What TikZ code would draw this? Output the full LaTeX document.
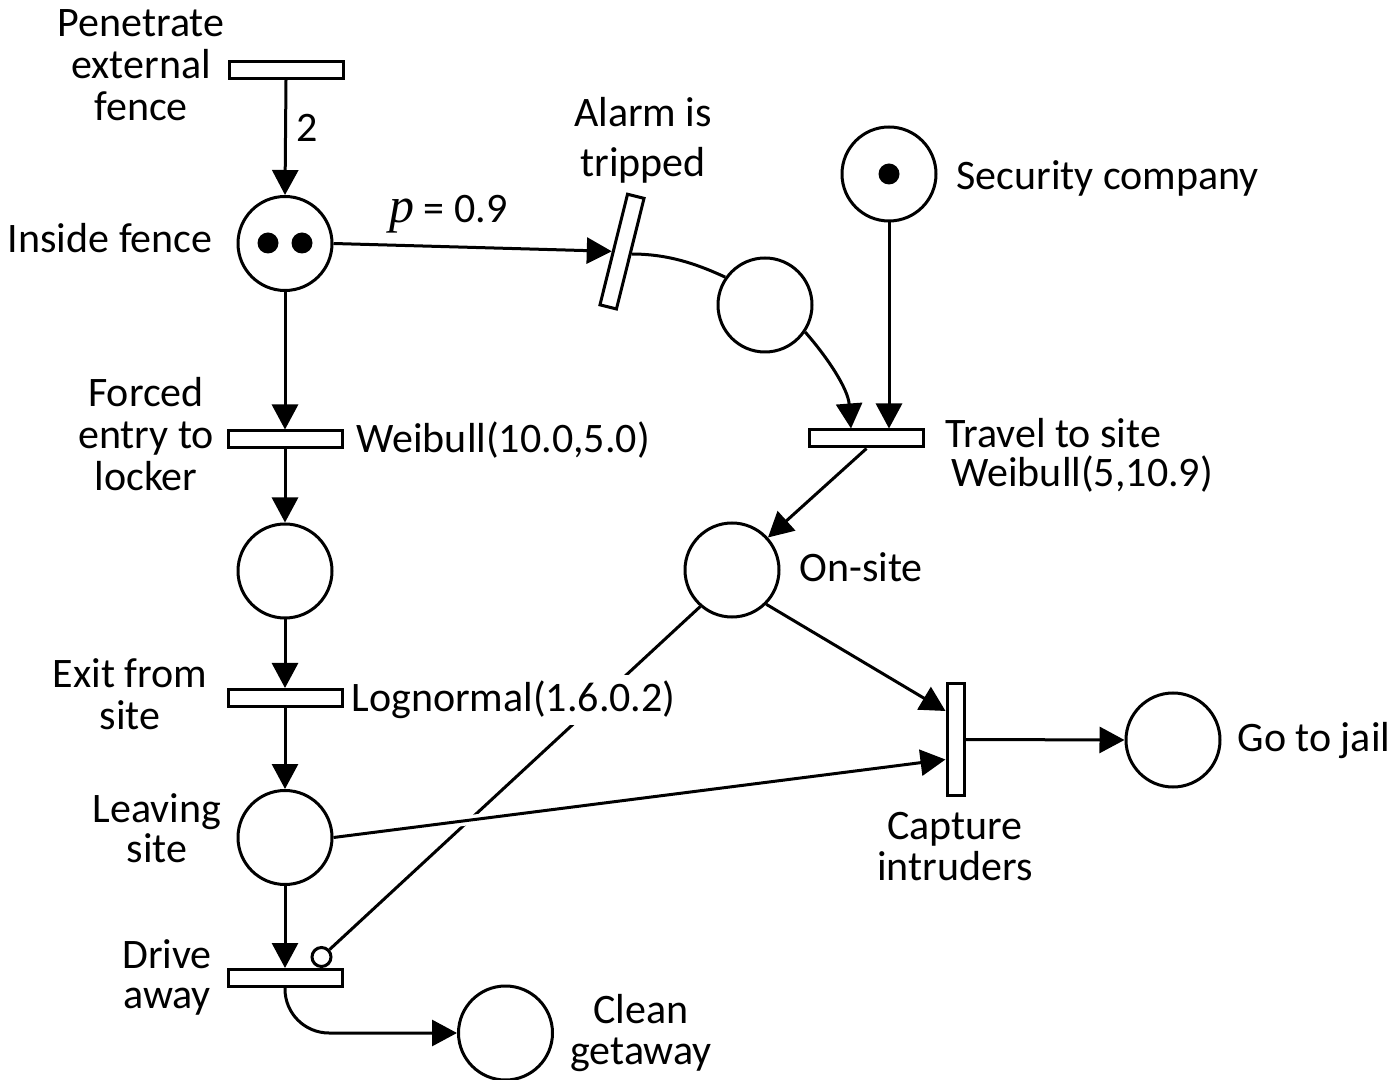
\documentclass[tikz,border=0pt]{standalone}
\usepackage{fontspec}
\setmainfont{Carlito}
\newfontfamily\pfont{Liberation Serif}
\usetikzlibrary{arrows.meta,calc}
\begin{document}
\begin{tikzpicture}[x=0.5pt,y=-0.5pt,
  line width=1.5pt,
  every node/.style={font=\fontsize{21pt}{21pt}\selectfont},
  place/.style={draw, circle, minimum size=47pt, inner sep=0pt},
  trans/.style={draw, rectangle, minimum width=57pt, minimum height=8.5pt, inner sep=0pt},
  vtrans/.style={draw, rectangle, minimum width=8.5pt, minimum height=56pt, inner sep=0pt},
  token/.style={fill, circle, minimum size=10.5pt, inner sep=0pt},
  inhib/.style={draw, fill=white, circle, minimum size=9.5pt, inner sep=0pt},
  lbl/.style={inner sep=0pt, align=center},
  arc/.style={-{Triangle[length=12.5pt,width=13pt]}},
]
\useasboundingbox (0,0) rectangle (1399,1080);

% places and transitions
\node[trans] (pen) at (286,70) {};
\node[place] (inside) at (285,243.5) {};
\node[token] (tk1) at (268,243) {};
\node[token] (tk2) at (302,243) {};
\node[trans, rotate=76] (alarm) at (622,251.6) {};
\node[place] (alarmp) at (765,305) {};
\node[place] (secur) at (889,174) {};
\node[token] (tk3) at (889,174) {};
\node[trans] (travel) at (866.5,438.5) {};
\node[trans] (forced) at (285,439.5) {};
\node[place] (locker) at (285,571) {};
\node[place] (onsite) at (732,570) {};
\node[trans] (exit) at (285,698) {};
\node[place] (leave) at (285,837.5) {};
\node[vtrans] (capture) at (955.5,739.5) {};
\node[place] (jail) at (1173,740) {};
\node[trans] (drive) at (285,978) {};
\node[inhib] (inh) at (321.5,957) {};
\node[place] (clean) at (505.5,1033) {};

% arcs
\draw[arc] (pen.south) -- (inside.north);
\draw[arc] (inside.east) -- (alarm);
\draw (alarm.south) .. controls +(35,0) and +(-30,-14) .. (alarmp.145);
\draw[arc] (alarmp.-34) .. controls +(22,25) and +(-3,-40) .. ($(travel.north)+(-15.5,0)$);
\draw[arc] (secur.south) -- (secur.south |- travel.north);
\draw[arc] (travel.south) -- (onsite);
\draw[arc] (inside.south) -- (forced.north);
\draw[arc] (forced.south) -- (locker.north);
\draw[arc] (locker.south) -- (exit.north);
\draw[arc] (exit.south) -- (leave.north);
\draw[arc] (leave.south) -- (drive.north);
\draw[arc, rounded corners=22pt] (drive.south) |- (clean.west);
\draw (onsite.229) -- (inh);
\path (leave.east) -- coordinate[pos=0.19] (h1) coordinate[pos=0.26] (h2) ($(capture.west)+(0,20)$);
\draw[white, line width=5pt] (h1) -- (h2);
\draw[arc] (leave.east) -- ($(capture.west)+(0,20)$);
\draw[arc] (onsite.-45) -- ($(capture.west)+(0,-28.5)$);
\draw[arc] (capture.east) -- (jail.west);

% labels (multi-line nodes: base = baseline of last line)
\node[lbl, anchor=base] (lpen) at (141,121) {Penetrate\\external\\fence};
\node[lbl, anchor=base east] (linside) at (214,253) {Inside fence};
\node[lbl, anchor=base west] (l2) at (295,142) {2};
\node[lbl, anchor=base west] (lp) at (388,223) {{\pfont\itshape\fontsize{25pt}{25pt}\selectfont p} = 0.9};
\node[lbl, anchor=base, font=\fontsize{21pt}{25pt}\selectfont] (lalarm) at (643,177) {Alarm is\\tripped};
\node[lbl, anchor=base west] (lsec) at (955,190) {Security company};
\node[lbl, anchor=base] (lforced) at (146,491) {Forced\\entry to\\locker};
\node[lbl, anchor=base west] (lweib1) at (355,453) {Weibull(10.0,5.0)};
\node[lbl, anchor=base west, align=left, font=\fontsize{21pt}{19.5pt}\selectfont] (ltravel) at (944,487) {Travel to site\\\hspace*{3pt}Weibull(5,10.9)};
\node[lbl, anchor=base west] (lonsite) at (798,582) {On-site};
\node[lbl, anchor=base] (lexit) at (130,730) {Exit from\\site};
\node[lbl, anchor=base west, fill=white, inner ysep=3pt] (llog) at (350,711.5) {Lognormal(1.6.0.2)};
\node[lbl, anchor=base, font=\fontsize{21pt}{20pt}\selectfont] (lleave) at (157,862) {Leaving\\site};
\node[lbl, anchor=base west] (ljail) at (1236,752) {Go to jail};
\node[lbl, anchor=base, font=\fontsize{21pt}{20.5pt}\selectfont] (lcap) at (955,880) {Capture\\intruders};
\node[lbl, anchor=base, font=\fontsize{21pt}{20pt}\selectfont] (ldrive) at (167,1008) {Drive\\away};
\node[lbl, anchor=base, font=\fontsize{21pt}{20.5pt}\selectfont] (lclean) at (641,1064) {Clean\\getaway};
\end{tikzpicture}
\end{document}
